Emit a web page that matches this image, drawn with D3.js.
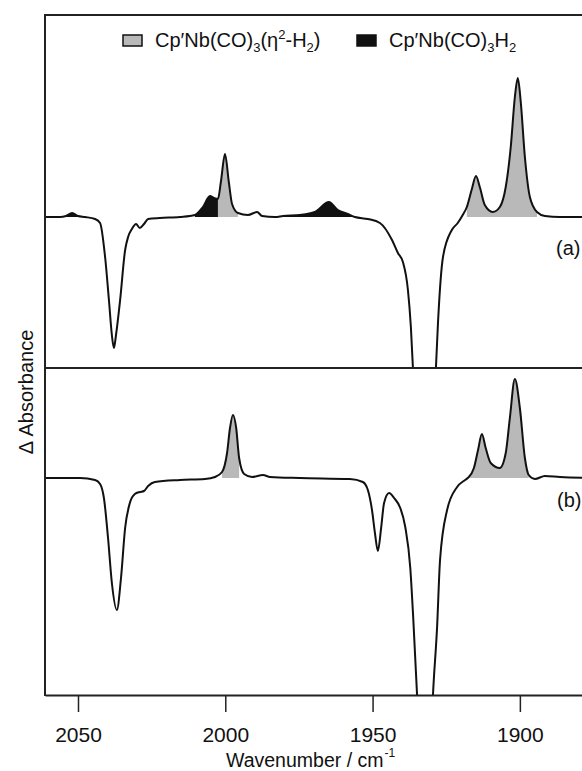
<!DOCTYPE html>
<html>
<head>
<meta charset="utf-8">
<script src="https://cdn.jsdelivr.net/npm/d3@7"></script>
<style>
  body { margin: 0; background: #fff; }
  text { font-family: "Liberation Sans", Arial, sans-serif; fill: #111; }
</style>
</head>
<body>
<svg id="chart" width="582" height="771"></svg>
<script>
// spectrum (a): wavenumber (cm-1) and delta absorbance
const wnA = [2061.2, 2056.1, 2054.1, 2052.0, 2050.0, 2047.6, 2044.2, 2042.5, 2040.8, 2039.5,
  2038.5, 2037.8, 2037.1, 2035.7, 2034.0, 2033.0, 2031.7, 2030.3, 2029.0, 2027.6,
  2026.2, 2022.2, 2015.4, 2010.3, 2007.6, 2005.2, 2003.8, 2002.5, 2001.5, 2000.1,
  1998.8, 1997.7, 1995.7, 1992.3, 1989.2, 1987.5, 1983.1, 1980.4, 1974.7, 1969.6,
  1964.8, 1961.8, 1958.4, 1956.0, 1951.6, 1947.5, 1943.4, 1941.4, 1939.7, 1938.0,
  1937.0, 1936.3, 1934.6, 1932.4, 1930.2, 1928.5, 1927.8, 1926.1, 1923.1, 1921.1,
  1919.4, 1918.0, 1916.3, 1914.9, 1913.6, 1911.9, 1909.2, 1906.8, 1904.8, 1903.1,
  1901.7, 1900.7, 1899.7, 1898.3, 1896.6, 1894.2, 1891.5, 1886.4, 1872.8]
const absA = [0, 0, 0.001, 0.004, 0.001, 0, -0.002, -0.006, -0.040, -0.083,
  -0.118, -0.131, -0.118, -0.083, -0.033, -0.020, -0.012, -0.007, -0.011, -0.007,
  -0.002, -0.001, 0, 0.002, 0.010, 0.021, 0.019, 0.018, 0.035, 0.063,
  0.035, 0.013, 0.004, 0.002, 0.005, 0.001, 0, 0.001, 0.002, 0.005,
  0.015, 0.007, 0.003, 0, -0.002, -0.006, -0.023, -0.036, -0.045, -0.073,
  -0.110, -0.151, -0.30, -0.45, -0.30, -0.151, -0.106, -0.040, -0.013, -0.006,
  0.002, 0.010, 0.028, 0.041, 0.030, 0.012, 0.005, 0.010, 0.030, 0.070,
  0.120, 0.139, 0.115, 0.060, 0.020, 0.005, 0.001, 0, 0]

// spectrum (b)
const wnB = [2061.2, 2049.3, 2044.2, 2042.5, 2041.2, 2039.8, 2038.5, 2036.8, 2035.4, 2034.0,
  2032.4, 2030.7, 2029.0, 2027.6, 2026.2, 2023.9, 2015.4, 2006.9, 2003.5, 2001.1,
  1999.4, 1998.4, 1997.4, 1996.3, 1995.3, 1993.6, 1990.9, 1987.2, 1984.8, 1974.7,
  1957.7, 1953.3, 1951.6, 1950.2, 1949.2, 1948.2, 1947.1, 1946.1, 1944.4, 1942.7,
  1940.6, 1938.9, 1937.2, 1936.2, 1934.9, 1932.2, 1929.5, 1928.1, 1927.1, 1924.7,
  1921.3, 1918.6, 1917.7, 1915.6, 1914.2, 1912.9, 1911.6, 1909.9, 1906.8, 1904.8,
  1903.4, 1901.7, 1900.0, 1898.3, 1897.0, 1894.9, 1891.5, 1886.4, 1872.8]
const absB = [0, 0, -0.002, -0.006, -0.020, -0.060, -0.105, -0.132, -0.100, -0.050,
  -0.025, -0.016, -0.014, -0.013, -0.008, -0.004, -0.002, -0.001, 0.001, 0.006,
  0.025, 0.050, 0.063, 0.050, 0.020, 0.004, 0.001, 0.003, 0.001, 0,
  -0.001, -0.004, -0.012, -0.032, -0.055, -0.073, -0.050, -0.025, -0.015, -0.020,
  -0.030, -0.049, -0.090, -0.140, -0.217, -0.45, -0.217, -0.149, -0.082, -0.032,
  -0.009, -0.002, 0, 0.010, 0.028, 0.044, 0.030, 0.015, 0.010, 0.025,
  0.060, 0.099, 0.070, 0.020, 0.003, -0.001, 0.002, 0.001, 0]

// shaded bands: [high wn, low wn]
const etaBandsA = [[2002.5, 1995.7], [1918.0, 1894.2]]
const hydBandsA = [[2054.1, 2050.0], [2010.3, 2002.5], [1980.4, 1956.0]]
const etaBandsB = [[2001.1, 1995.3], [1917.7, 1897.0]]
const hydBandsB = []

const xTicks = [2050, 2000, 1950, 1900]
const legendLabels = [
  [["Cp′Nb(CO)", ""], ["3", "sub"], ["(η", ""], ["2", "sup"], ["-H", ""], ["2", "sub"], [")", ""]],
  [["Cp′Nb(CO)", ""], ["3", "sub"], ["H", ""], ["2", "sub"]]
]
const etaColor = "#b9b9b9"
const hydColor = "#111"

const plotLeft = 45, plotRight = 600, plotTop = 15, plotMid = 368, plotBottom = 695
const svg = d3.select("#chart")

const x = d3.scaleLinear().domain([2061.2, 1872.8]).range([plotLeft, plotRight])
const yA = d3.scaleLinear().domain([-0.151, 0.202]).range([plotMid, plotTop])
const yB = d3.scaleLinear().domain([-0.217, 0.110]).range([plotBottom, plotMid])

const panels = [
  { id: "a", wn: wnA, abs: absA, y: yA, eta: etaBandsA, hyd: hydBandsA, y0: plotTop, y1: plotMid },
  { id: "b", wn: wnB, abs: absB, y: yB, eta: etaBandsB, hyd: hydBandsB, y0: plotMid, y1: plotBottom }
]

panels.forEach(p => {
  const pts = p.wn.map((w, i) => [w, p.abs[i]])
  svg.append("clipPath").attr("id", "clip" + p.id)
    .append("rect")
    .attr("x", plotLeft).attr("y", p.y0)
    .attr("width", plotRight - plotLeft).attr("height", p.y1 - p.y0)

  const g = svg.append("g").attr("clip-path", `url(#clip${p.id})`)

  const area = d3.area()
    .x(d => x(d[0]))
    .y0(p.y(0))
    .y1(d => p.y(d[1]))
    .curve(d3.curveMonotoneX)

  const drawBands = (bands, color) => {
    bands.forEach(b => {
      const sub = pts.filter(d => d[0] <= b[0] + 1e-6 && d[0] >= b[1] - 1e-6)
      g.append("path").attr("d", area(sub)).attr("fill", color).attr("stroke", "none")
    })
  }
  drawBands(p.eta, etaColor)
  drawBands(p.hyd, hydColor)

  const line = d3.line()
    .x(d => x(d[0]))
    .y(d => p.y(d[1]))
    .curve(d3.curveMonotoneX)

  g.append("path")
    .attr("d", line(pts))
    .attr("fill", "none")
    .attr("stroke", "#111")
    .attr("stroke-width", 2)
    .attr("stroke-linejoin", "round")
})

// frame
svg.append("line").attr("x1", plotLeft).attr("x2", plotRight).attr("y1", plotTop).attr("y2", plotTop)
  .attr("stroke", "#222").attr("stroke-width", 2)
svg.append("line").attr("x1", plotLeft).attr("x2", plotRight).attr("y1", plotMid).attr("y2", plotMid)
  .attr("stroke", "#222").attr("stroke-width", 2)
svg.append("line").attr("x1", plotLeft).attr("x2", plotLeft).attr("y1", plotTop - 1).attr("y2", plotBottom + 1)
  .attr("stroke", "#222").attr("stroke-width", 2)

// x axis
const xAxis = d3.axisBottom(x).tickValues(xTicks).tickFormat(d3.format("d"))
  .tickSize(17).tickSizeOuter(0).tickPadding(15)
const ax = svg.append("g").attr("transform", `translate(0,${plotBottom})`).call(xAxis)
ax.select(".domain").attr("stroke", "#222").attr("stroke-width", 2)
ax.selectAll(".tick line").attr("stroke", "#222").attr("stroke-width", 1.5)
ax.selectAll(".tick text")
  .attr("font-size", 21)
  .attr("font-family", "Liberation Sans, Arial, sans-serif")
  .attr("fill", "#111")

// axis titles
const xt = svg.append("text").attr("x", 226).attr("y", 767).attr("font-size", 19.5)
xt.append("tspan").text("Wavenumber / cm")
xt.append("tspan").attr("dy", -10).attr("dx", 1).attr("font-size", 12).text("-1")

svg.append("text")
  .attr("transform", "translate(33,392) rotate(-90)")
  .attr("text-anchor", "middle")
  .attr("font-size", 20)
  .text("Δ Absorbance")

// panel labels
svg.append("text").attr("x", 556).attr("y", 255).attr("font-size", 20).text("(a)")
svg.append("text").attr("x", 557).attr("y", 507).attr("font-size", 20).text("(b)")

// legend
const legendX = [123, 357]
const legendColors = [etaColor, hydColor]
legendLabels.forEach((parts, i) => {
  svg.append("rect")
    .attr("x", legendX[i]).attr("y", 35)
    .attr("width", 19).attr("height", 11)
    .attr("fill", legendColors[i]).attr("stroke", "#111").attr("stroke-width", 1.5)
  const t = svg.append("text").attr("x", legendX[i] + 32).attr("y", 47).attr("font-size", 20)
  let shift = 0
  parts.forEach(([s, kind]) => {
    const target = kind === "sub" ? 5 : kind === "sup" ? -8 : 0
    const ts = t.append("tspan").attr("dy", target - shift).text(s)
    if (kind) ts.attr("font-size", 13)
    shift = target
  })
})
</script>
</body>
</html>
